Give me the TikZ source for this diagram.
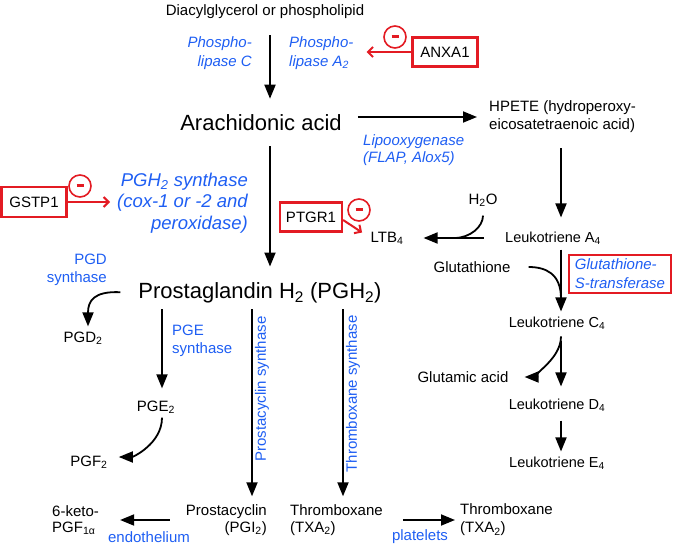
\documentclass[tikz,border=0pt]{standalone}
\usepackage{fontspec}
\setmainfont{Liberation Sans}
\usepackage{tikz}
\usetikzlibrary{calc}
\usetikzlibrary{arrows.meta}
\usetikzlibrary{positioning}
\definecolor{enzblue}{HTML}{1E5EF3}
\definecolor{inhred}{HTML}{E31B23}

\begin{document}
\begin{tikzpicture}[x=1pt,y=-1pt]
	\tikzset{lbl/.style={inner sep=0pt, font=\fontsize{15pt}{18pt}\selectfont}}
	\tikzset{ltlbl/.style={inner sep=0pt, font=\fontsize{14.5pt}{18pt}\selectfont}}
	\tikzset{bigl/.style={inner sep=0pt, font=\fontsize{22pt}{26pt}\selectfont}}
	\tikzset{enz/.style={inner sep=0pt, text=enzblue, font=\fontsize{15pt}{19pt}\selectfont\itshape}}
	\tikzset{enzup/.style={inner sep=0pt, text=enzblue, font=\fontsize{15pt}{18pt}\selectfont}}
	\tikzset{inhbox/.style={draw=inhred, line width=2.2pt, inner sep=0pt, minimum height=29pt, font=\fontsize{15pt}{18pt}\selectfont}}
	\tikzset{minus/.style={circle, draw=inhred, text=inhred, line width=1.6pt, minimum size=22pt, inner sep=0pt}}
	\tikzset{flow/.style={line width=1.8pt, -{Triangle[length=14pt,width=11pt]}}}
	\tikzset{branch/.style={line width=1.8pt}}
	\tikzset{inh/.style={draw=inhred, line width=2pt, -{Straight Barb[length=5pt,width=10pt]}}}
	\useasboundingbox (0,0) rectangle (675,548);
	\coordinate (cA) at (270,0);
	\coordinate (cLT) at (561,0);
	\coordinate (cE) at (162,0);
	\coordinate (cI) at (252,0);
	\coordinate (cT) at (343,0);
	\node[lbl] (dag) at (265,12) {Diacylglycerol or phospholipid};
	\node[enz, anchor=east, align=right] (plc) at (252,53) {Phospho-\\lipase C};
	\node[enz, anchor=west, align=left] (pla2) at (289,53) {Phospho-\\lipase A\textsubscript{2}};
	\node[inhbox, minimum width=65pt] (anxa1) at (445,52) {ANXA1};
	\node[minus] (mn1) at (395,37) {\rule{7pt}{3pt}};
	\node[bigl] (aa) at (261,123) {Arachidonic acid};
	\node[lbl, anchor=west, align=left] (hpete) at (489,117) {HPETE (hydroperoxy-\\eicosatetraenoic acid)};
	\node[enz, anchor=west, align=left, font=\fontsize{15pt}{17pt}\selectfont\itshape] (lox) at (363,150) {Lipooxygenase\\(FLAP, Alox5)};
	\node[enz, anchor=east, align=right, font=\fontsize{18.5pt}{21.5pt}\selectfont\itshape] (pghsyn) at (248,203) {PGH\textsubscript{2} synthase\\(cox-1 or -2 and\\peroxidase)};
	\node[inhbox, minimum width=65pt, minimum height=30pt] (gstp1) at (34,202) {GSTP1};
	\node[minus] (mn2) at (80,186) {\rule{7pt}{3pt}};
	\node[bigl] (pgh) at (260,293) {Prostaglandin H\textsubscript{2} (PGH\textsubscript{2})};
	\node[ltlbl] (lta4) at (553,238) {Leukotriene A\textsubscript{4}};
	\node[lbl] (h2o) at (483,200) {H\textsubscript{2}O};
	\node[lbl] (ltb4) at (387,238) {LTB\textsubscript{4}};
	\node[inhbox, minimum width=62pt] (ptgr1) at (311,217) {PTGR1};
	\node[minus] (mn3) at (359,210) {\rule{7pt}{3pt}};
	\node[lbl] (glut) at (472,267) {Glutathione};
	\node[inhbox, text=enzblue, font=\fontsize{15pt}{19pt}\selectfont\itshape, align=left, inner xsep=6pt, minimum height=38pt] (gst) at (620,274) {Glutathione-\\S-transferase};
	\node[ltlbl] (ltc4) at (557,323) {Leukotriene C\textsubscript{4}};
	\node[lbl] (glum) at (463,377) {Glutamic acid};
	\node[ltlbl] (ltd4) at (557,405) {Leukotriene D\textsubscript{4}};
	\node[ltlbl] (lte4) at (557,463) {Leukotriene E\textsubscript{4}};
	\node[enzup, anchor=east, align=right] (pgdsyn) at (107,270) {PGD\\synthase};
	\node[lbl] (pgd2) at (83,338) {PGD\textsubscript{2}};
	\node[enzup, anchor=west, align=left] (pgesyn) at (172,341) {PGE\\synthase};
	\node[lbl] (pge2) at (156,407) {PGE\textsubscript{2}};
	\node[lbl] (pgf2) at (89,462) {PGF\textsubscript{2}};
	\node[lbl, anchor=east, align=right, font=\fontsize{15pt}{17pt}\selectfont] (pgi2) at (267,520) {Prostacyclin\\(PGI\textsubscript{2})};
	\node[lbl, anchor=west, align=left, font=\fontsize{15pt}{17pt}\selectfont] (txa2) at (290,520) {Thromboxane\\(TXA\textsubscript{2})};
	\node[lbl, anchor=west, align=left, font=\fontsize{15pt}{18pt}\selectfont] (txa2p) at (460,520) {Thromboxane\\(TXA\textsubscript{2})};
	\node[lbl, anchor=west, align=left, font=\fontsize{15pt}{16pt}\selectfont] (keto) at (52,520) {6-keto-\\PGF\textsubscript{1α}};
	\node[enzup] (endo) at (149,537) {endothelium};
	\node[enzup] (plat) at (420,537) {platelets};
	\node[enzup, rotate=90] (pcsyn) at (262,389) {Prostacyclin synthase};
	\node[enzup, rotate=90] (txsyn) at (353,394) {Thromboxane synthase};
	\draw[flow, shorten <=16pt, shorten >=16pt] (dag.south -| cA) -- (aa.north -| cA);
	\draw[inh, shorten >=13pt] (anxa1.west) -- (anxa1.west -| pla2.east);
	\draw[flow, shorten <=16pt, shorten >=12pt] (aa.east |- hpete.west) -- (hpete.west);
	\draw[flow, shorten <=15pt, shorten >=16pt] (aa.south -| cA) -- (pgh.north -| cA);
	\draw[inh, shorten >=7pt] (gstp1.east) -- (gstp1.east -| pghsyn.west);
	\draw[flow, shorten <=15pt, shorten >=14pt] (hpete.south -| cLT) -- (lta4.north -| cLT);
	\draw[flow, shorten <=21pt, shorten >=20pt] (lta4.west) -- (ltb4.east);
	\coordinate (j1) at ($(ltb4.east)!0.5!(lta4.west)$);
	\draw[branch, shorten <=9pt] (h2o.south) .. controls +(0,20) and +(16,0) .. (j1);
	\draw[inh, shorten >=10pt] ([yshift=-3pt]ptgr1.east) -- (ltb4.west);
	\draw[flow, shorten <=5pt, shorten >=5pt] (lta4.south -| cLT) -- (ltc4.north -| cLT);
	\coordinate (j2) at ($(lta4.south -| cLT)!0.75!(ltc4.north -| cLT)$);
	\draw[branch, shorten <=18pt] (glut.east) .. controls +(35,0) and +(0,-25) .. (j2);
	\draw[flow, shorten <=11pt, shorten >=12pt] (ltc4.south -| cLT) -- (ltd4.north -| cLT);
	\coordinate (j3) at ($(ltc4.south -| cLT)!0.1!(ltd4.north -| cLT)$);
	\draw[flow, shorten >=16pt] (j3) .. controls +(0,25) and +(18,0) .. (glum.east);
	\draw[flow, shorten <=9pt, shorten >=5pt] (ltd4.south -| cLT) -- (lte4.north -| cLT);
	\draw[flow, shorten <=18pt, shorten >=5pt] (pgh.west) .. controls +(-45,-2) and +(0,-30) .. ([xshift=5pt]pgd2.north);
	\draw[flow, shorten <=6pt, shorten >=12pt] (pgh.south -| cE) -- (pge2.north -| cE);
	\draw[flow, shorten <=4pt, shorten >=11pt] (pge2.south -| cE) .. controls +(0,30) and +(25,0) .. ([yshift=5pt]pgf2.east);
	\draw[flow, shorten <=6pt, shorten >=8pt] (pgh.south -| cI) -- (pgi2.north -| cI);
	\draw[flow, shorten <=6pt, shorten >=8pt] (pgh.south -| cT) -- (txa2.north -| cT);
	\draw[flow, shorten <=16pt, shorten >=21pt] (pgi2.west) -- (keto.east);
	\draw[flow, shorten <=20pt, shorten >=5pt] (txa2.east) -- (txa2p.west);
\end{tikzpicture}
\end{document}
